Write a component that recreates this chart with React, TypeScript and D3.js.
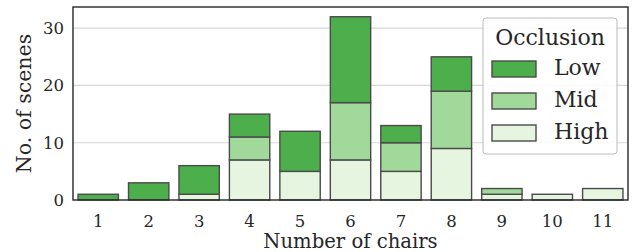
import React, { useRef, useEffect } from 'react';
import * as d3 from 'd3';

const categories = ['1', '2', '3', '4', '5', '6', '7', '8', '9', '10', '11'];
const high = [0, 0, 1, 7, 5, 7, 5, 9, 1, 1, 2];
const mid = [0, 0, 0, 4, 0, 10, 5, 10, 1, 0, 0];
const low = [1, 3, 5, 4, 7, 15, 3, 6, 0, 0, 0];
const yTicks = [0, 10, 20, 30];

const seriesNames = ['High', 'Mid', 'Low'];
const colors = { High: '#e5f5e0', Mid: '#a1d99b', Low: '#4caf4b' };

export default function App() {
  const svgRef = useRef(null);

  useEffect(() => {
    const W = 637, H = 252;
    const margin = { top: 7, right: 9, bottom: 52, left: 73 };
    const width = W - margin.left - margin.right;
    const height = H - margin.top - margin.bottom;
    const font = 'DejaVu Serif';

    const svg = d3.select(svgRef.current);
    svg.selectAll('*').remove();
    const g = svg.append('g').attr('transform', `translate(${margin.left},${margin.top})`);

    const table = categories.map((c, i) => ({ cat: c, High: high[i], Mid: mid[i], Low: low[i] }));
    const stacked = d3.stack().keys(seriesNames)(table);

    const x = d3.scaleBand().domain(categories).range([0, width]).paddingInner(0.2).paddingOuter(0.1);
    const y = d3.scaleLinear().domain([0, 33.7]).range([height, 0]);

    // grid
    g.selectAll('.grid').data(yTicks.slice(1)).enter().append('line')
      .attr('x1', 0).attr('x2', width)
      .attr('y1', d => y(d)).attr('y2', d => y(d))
      .attr('stroke', '#d6d6d6').attr('stroke-width', 1.2);

    // bars
    stacked.forEach(s => {
      g.selectAll(null).data(s.filter(d => d[1] - d[0] > 0)).enter().append('rect')
        .attr('x', d => x(d.data.cat))
        .attr('width', x.bandwidth())
        .attr('y', d => y(d[1]))
        .attr('height', d => y(d[0]) - y(d[1]))
        .attr('fill', colors[s.key])
        .attr('stroke', '#4a4a4a').attr('stroke-width', 1.4);
    });

    // frame
    g.append('rect').attr('x', 0).attr('y', 0).attr('width', width).attr('height', height)
      .attr('fill', 'none').attr('stroke', '#262626').attr('stroke-width', 1.4);

    // ticks
    const xAxis = g.append('g').attr('transform', `translate(0,${height})`)
      .call(d3.axisBottom(x).tickSize(0).tickPadding(15));
    xAxis.select('.domain').remove();
    xAxis.selectAll('text').attr('font-family', font).attr('font-size', 16.5).attr('fill', '#262626');

    const yAxis = g.append('g').call(d3.axisLeft(y).tickValues(yTicks).tickSize(0).tickPadding(9));
    yAxis.select('.domain').remove();
    yAxis.selectAll('text').attr('font-family', font).attr('font-size', 16.5).attr('fill', '#262626');

    // axis labels
    svg.append('text').attr('x', margin.left + width / 2).attr('y', 248)
      .attr('text-anchor', 'middle').attr('font-family', font).attr('font-size', 19.6)
      .attr('fill', '#262626').text('Number of chairs');
    svg.append('text').attr('transform', `translate(31,${margin.top + height / 2}) rotate(-90)`)
      .attr('text-anchor', 'middle').attr('font-family', font).attr('font-size', 20.5)
      .attr('fill', '#262626').text('No. of scenes');

    // legend
    const lg = svg.append('g').attr('transform', 'translate(483,18)');
    lg.append('rect').attr('width', 134).attr('height', 136).attr('rx', 3)
      .attr('fill', 'white').attr('fill-opacity', 0.85).attr('stroke', '#bbbbbb').attr('stroke-width', 1);
    lg.append('text').attr('x', 67).attr('y', 27).attr('text-anchor', 'middle')
      .attr('font-family', font).attr('font-size', 22).attr('fill', '#262626').text('Occlusion');
    ['Low', 'Mid', 'High'].forEach((k, i) => {
      const yy = 43 + i * 32;
      lg.append('rect').attr('x', 9).attr('y', yy).attr('width', 44).attr('height', 16)
        .attr('fill', colors[k]).attr('stroke', '#4a4a4a').attr('stroke-width', 1.4);
      lg.append('text').attr('x', 71).attr('y', yy + 14).attr('font-family', font)
        .attr('font-size', 22).attr('fill', '#262626').text(k);
    });
  }, []);

  return <svg ref={svgRef} width={637} height={252} style={{ position: 'absolute', left: 0, top: 0 }} />;
}
